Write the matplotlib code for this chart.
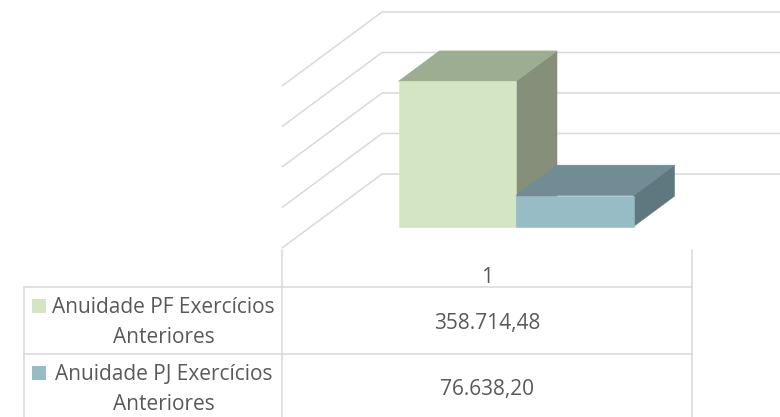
import matplotlib
matplotlib.use("Agg")
import matplotlib.pyplot as plt
from matplotlib.patches import Polygon, Rectangle

# data
categories = ["1"]
series_names = ["Anuidade PF Exercícios", "Anuidade PJ Exercícios"]
series_suffix = ["Anteriores", "Anteriores"]
values = [358714.48, 76638.20]
value_labels = ["358.714,48", "76.638,20"]
gridline_values = [0, 100000, 200000, 300000, 400000]

# colours of the 3d faces
front_colors = ["#d3e5c2", "#97bcc6"]
top_colors = ["#9cad92", "#718c94"]
side_colors = ["#858f7a", "#5f7880"]
grid_color = "#d9d9d9"
text_color = "#595959"

W, H = 780, 417
PX_PER_UNIT = 40.5 / 100000.0   # vertical scale of the value axis
FLOOR_Y = 248                    # pixel row of value 0 at the front
DEPTH_DX = 100                   # oblique shift of the full depth
DEPTH_DV = 74 / PX_PER_UNIT
FLOOR_X0, FLOOR_X1 = 282, 692
BAR_W = 117.5
BAR_D0, BAR_D1 = 0.29, 0.70

plt.rcParams["font.family"] = ["Open Sans", "DejaVu Sans"]

fig = plt.figure(figsize=(W / 100, H / 100), dpi=100)
ax = fig.add_axes([0, 0, 1, 1])
ax.set_xlim(0, W)
ax.set_ylim((FLOOR_Y - H) / PX_PER_UNIT, FLOOR_Y / PX_PER_UNIT)
ax.axis("off")


def proj(x, v, d):
    # oblique projection: depth moves right and up
    return (x + DEPTH_DX * d, v + DEPTH_DV * d)


# side wall diagonals and back wall gridlines
for gv in gridline_values:
    p0 = proj(FLOOR_X0, gv, 0)
    p1 = proj(FLOOR_X0, gv, 1)
    ax.plot([p0[0], p1[0], W + 5], [p0[1], p1[1], p1[1]],
            color=grid_color, lw=1.1, solid_capstyle="butt", zorder=1)

# bars, left to right, each as side, top and front faces
center = (FLOOR_X0 + FLOOR_X1) / 2
x_start = center - BAR_W * len(values) / 2
for i, v in enumerate(values):
    x0 = x_start + i * BAR_W
    x1 = x0 + BAR_W
    side = [proj(x1, 0, BAR_D0), proj(x1, v, BAR_D0),
            proj(x1, v, BAR_D1), proj(x1, 0, BAR_D1)]
    top = [proj(x0, v, BAR_D0), proj(x1, v, BAR_D0),
           proj(x1, v, BAR_D1), proj(x0, v, BAR_D1)]
    front = [proj(x0, 0, BAR_D0), proj(x1, 0, BAR_D0),
             proj(x1, v, BAR_D0), proj(x0, v, BAR_D0)]
    for pts, c in ((side, side_colors[i]), (top, top_colors[i]),
                   (front, front_colors[i])):
        ax.add_patch(Polygon(pts, closed=True, facecolor=c,
                             edgecolor=c, lw=0.4, zorder=2 + i))

# data table below the plot, in pixel coordinates
tx = fig.add_axes([0, 0, 1, 1])
tx.set_xlim(0, W)
tx.set_ylim(H, 0)
tx.axis("off")
tx.patch.set_alpha(0)

lw = 1.1
tx.plot([FLOOR_X0, FLOOR_X0], [FLOOR_Y + 2, H], color=grid_color, lw=lw)
tx.plot([FLOOR_X1, FLOOR_X1], [FLOOR_Y + 2, H], color=grid_color, lw=lw)
tx.plot([24, 24], [287, H], color=grid_color, lw=lw)
for yy in (287, 354):
    tx.plot([24, FLOOR_X1], [yy, yy], color=grid_color, lw=lw)

fs = 15
tx.text(center, 283, categories[0], ha="center", va="baseline",
        fontsize=fs, color=text_color)

row_base = [313.3, 380]
for i in range(len(values)):
    yb = row_base[i]
    tx.add_patch(Rectangle((32, yb - 14), 14, 14,
                           facecolor=front_colors[i], edgecolor="none"))
    tx.text(163.5, yb, series_names[i], ha="center", va="baseline",
            fontsize=fs, color=text_color)
    tx.text(163.5, yb + 29.5, series_suffix[i], ha="center", va="baseline",
            fontsize=fs, color=text_color)
    tx.text(center, yb + 15.5, value_labels[i], ha="center",
            va="baseline", fontsize=fs, color=text_color)

fig.savefig("out.png", dpi=100)
